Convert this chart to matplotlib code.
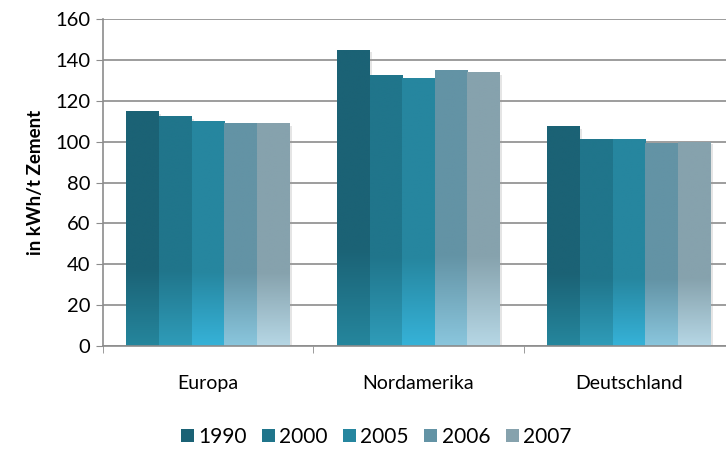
"""Stromverbrauch je Tonne Zement, Europa / Nordamerika / Deutschland."""

import matplotlib
matplotlib.use("Agg")
import matplotlib.pyplot as plt
import matplotlib.patheffects as pe
import numpy as np
from matplotlib.colors import to_rgb

plt.rcParams["font.family"] = ["Lato", "DejaVu Sans"]

regions = ["Europa", "Nordamerika", "Deutschland"]
years = ["1990", "2000", "2005", "2006", "2007"]
values = {
    "1990": [115, 145, 107.5],
    "2000": [112.5, 132.5, 101.5],
    "2005": [110, 131, 101.5],
    "2006": [109, 135, 99.5],
    "2007": [109, 134, 100],
}
top_colors = ["#1b6275", "#20758b", "#26869f", "#6393a5", "#86a2ad"]
bottom_colors = ["#25869d", "#2f9cb9", "#36b2d8", "#8ac6dd", "#b6d7e5"]

fig = plt.figure(figsize=(7.26, 4.5), dpi=100)
ax = fig.add_axes([102.7 / 726, 1 - 346 / 450, 631.5 / 726, 327 / 450])

x = np.arange(len(regions))
width = 0.155
offsets = (np.arange(len(years)) - 2) * width

for i, year in enumerate(years):
    bars = ax.bar(x + offsets[i], values[year], width, color=top_colors[i],
                  linewidth=0, zorder=2,
                  path_effects=[pe.SimplePatchShadow(offset=(1.5, -2), shadow_rgbFace="#999999", alpha=0.25),
                                pe.Normal()])
    top = np.array(to_rgb(top_colors[i]))
    bot = np.array(to_rgb(bottom_colors[i]))
    # gradient in the lower third of each bar, lighter towards the base
    for bar in bars:
        h = bar.get_height()
        t = np.linspace(0, 1, 200)[:, None]
        frac = np.clip(t / 0.33, 0, 1)
        img = bot + (top - bot) * frac[..., None]
        im = ax.imshow(img, extent=[bar.get_x(), bar.get_x() + bar.get_width(), 0, h],
                       origin="lower", aspect="auto", zorder=2.5, interpolation="bilinear")
        im.set_clip_path(bar)

# legend proxies
for i, year in enumerate(years):
    ax.bar([np.nan], [np.nan], color=top_colors[i], label=year)

ax.set_xlim(-0.5, 2.5)
ax.set_ylim(0, 160)
ax.set_yticks(range(0, 161, 20))
ax.set_xticks(x)
ax.set_xticklabels(regions, fontsize=14)
ax.set_xticks([-0.5, 0.5, 1.5, 2.5], minor=True)
ax.tick_params(axis="x", which="major", length=0, pad=21)
ax.tick_params(axis="x", which="minor", length=5, color="#8c8c8c")
ax.tick_params(axis="y", length=5, color="#8c8c8c", labelsize=14.5, pad=4)
ax.grid(axis="y", color="#8c8c8c", linewidth=1.2, zorder=0)
ax.set_axisbelow(True)
for side in ("top", "right"):
    ax.spines[side].set_visible(False)
for side in ("left", "bottom"):
    ax.spines[side].set_color("#8c8c8c")
    ax.spines[side].set_linewidth(1.2)
ax.spines["bottom"].set_zorder(3)

ax.set_ylabel("in kWh/t Zement", fontsize=13.5, fontweight="bold", labelpad=8)

fig.legend(loc="center", bbox_to_anchor=(376 / 726, 1 - 437 / 450), ncol=5,
           frameon=False, fontsize=15, handlelength=0.62, handleheight=0.62,
           handletextpad=0.2, columnspacing=0.75)

fig.savefig("out.png", dpi=100)
